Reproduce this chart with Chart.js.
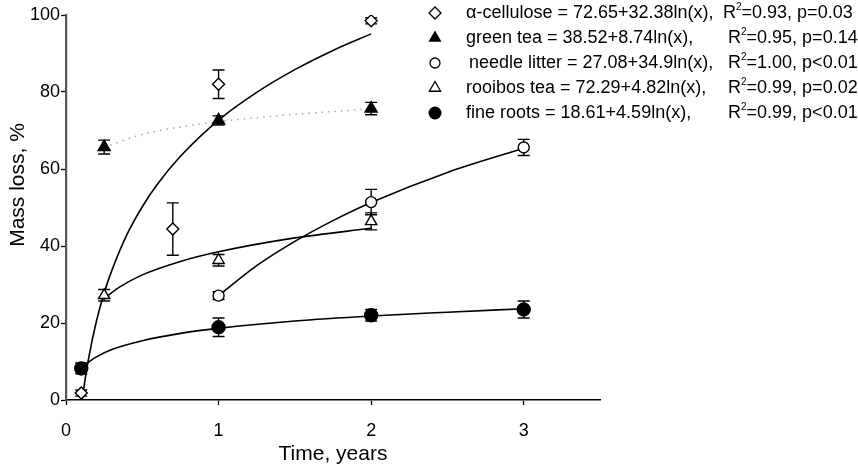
<!DOCTYPE html>
<html>
<head>
<meta charset="utf-8">
<script src="https://cdn.jsdelivr.net/npm/chart.js@4"></script>
<style>
  body { margin: 0; background: #fff; }
  #wrap { position: relative; width: 858px; height: 467px; }
</style>
</head>
<body>
<div id="wrap"><canvas id="massChart"></canvas></div>
<script>
const acTime = [0.1, 0.7, 1, 2];
const acMean = [1.8, 44.4, 82.0, 98.5];
const acErr = [0.8, 6.8, 3.7, 0.8];

const greenTime = [0.25, 1, 2];
const greenMean = [65.7, 72.6, 75.7];
const greenErr = [1.8, 1.2, 1.6];

const needleTime = [1, 2, 3];
const needleMean = [27.1, 51.4, 65.6];
const needleErr = [1.0, 3.3, 2.1];

const rooibosTime = [0.25, 1, 2];
const rooibosMean = [27.2, 36.3, 46.4];
const rooibosErr = [1.5, 1.5, 2.2];

const rootsTime = [0.1, 1, 2, 3];
const rootsMean = [8.2, 18.9, 22.0, 23.5];
const rootsErr = [1.4, 2.4, 1.5, 2.2];

// fitted curves
const acFitX = [0.107, 0.12, 0.15, 0.2, 0.25, 0.3, 0.4, 0.5, 0.6, 0.75, 1, 1.25, 1.5, 1.75, 2];
const acFitY = [0.3, 4.0, 11.2, 20.6, 27.8, 33.6, 43.0, 50.2, 56.1, 63.3, 72.7, 79.9, 85.8, 90.8, 95.1];
const greenFitX = [0.25, 0.5, 0.75, 1, 1.5, 2];
const greenFitY = [65.6, 69.0, 70.9, 72.3, 74.2, 75.6];
const needleFitX = [1, 1.25, 1.5, 1.75, 2, 2.5, 3];
const needleFitY = [27.1, 34.9, 41.2, 46.6, 51.3, 59.1, 65.4];
const rooibosFitX = [0.25, 0.35, 0.5, 0.75, 1, 1.5, 2];
const rooibosFitY = [26.4, 29.3, 32.5, 36.0, 38.5, 42.1, 44.6];
const rootsFitX = [0.1, 0.15, 0.2, 0.3, 0.5, 0.75, 1, 1.5, 2, 2.5, 3];
const rootsFitY = [8.0, 9.9, 11.2, 13.1, 15.4, 17.3, 18.6, 20.5, 21.8, 22.8, 23.7];

const xTicks = [0, 1, 2, 3];
const yTicks = [0, 20, 40, 60, 80, 100];

const yTitle = "Mass loss, %";
const legendLines = [
  ["α-cellulose = 72.65+32.38ln(x),", "=0.93, p=0.03"],
  ["green tea = 38.52+8.74ln(x),", "=0.95, p=0.14"],
  ["needle litter = 27.08+34.9ln(x),", "=1.00, p<0.01"],
  ["rooibos tea = 72.29+4.82ln(x),", "=0.99, p=0.02"],
  ["fine roots = 18.61+4.59ln(x),", "=0.99, p<0.01"]
];

const FONT = "'Liberation Sans', Arial, sans-serif";

function zip(xs, ys) {
  return xs.map((x, i) => ({ x: x, y: ys[i] }));
}

function pts(label, xs, ys, errs, style, fill, radius) {
  return {
    label: label,
    data: zip(xs, ys),
    errors: errs,
    showLine: false,
    pointStyle: style,
    pointRadius: radius,
    pointBorderWidth: 1.4,
    pointBorderColor: "#000",
    pointBackgroundColor: fill,
    order: 0
  };
}

function fit(xs, ys, dashed) {
  return {
    data: zip(xs, ys),
    showLine: true,
    pointRadius: 0,
    borderColor: dashed ? "#a8a8a8" : "#000",
    borderWidth: dashed ? 1.5 : 1.6,
    borderDash: dashed ? [1.5, 5] : [],
    cubicInterpolationMode: "monotone",
    order: 1
  };
}

// error bars drawn before the markers
const errorBars = {
  id: "errorBars",
  beforeDatasetsDraw(chart) {
    const ctx = chart.ctx;
    const xs = chart.scales.x, ys = chart.scales.y;
    ctx.save();
    ctx.strokeStyle = "#000";
    ctx.lineWidth = 1.4;
    chart.data.datasets.forEach(ds => {
      if (!ds.errors) return;
      ds.data.forEach((p, i) => {
        const e = ds.errors[i];
        const px = xs.getPixelForValue(p.x);
        const top = ys.getPixelForValue(p.y + e);
        const bot = ys.getPixelForValue(p.y - e);
        ctx.beginPath();
        ctx.moveTo(px, top); ctx.lineTo(px, bot);
        ctx.moveTo(px - 6, top); ctx.lineTo(px + 6, top);
        ctx.moveTo(px - 6, bot); ctx.lineTo(px + 6, bot);
        ctx.stroke();
      });
    });
    ctx.restore();
  }
};

function marker(ctx, kind, x, y, r) {
  ctx.beginPath();
  if (kind === "diamond") {
    ctx.moveTo(x, y - r); ctx.lineTo(x + r, y); ctx.lineTo(x, y + r); ctx.lineTo(x - r, y); ctx.closePath();
  } else if (kind === "tri" || kind === "triOpen") {
    ctx.moveTo(x, y - r); ctx.lineTo(x + r * 0.87, y + r * 0.5); ctx.lineTo(x - r * 0.87, y + r * 0.5); ctx.closePath();
  } else {
    ctx.arc(x, y, r, 0, Math.PI * 2);
  }
  if (kind === "tri" || kind === "dot") { ctx.fillStyle = "#000"; ctx.fill(); }
  else { ctx.stroke(); }
}

const legendPlugin = {
  id: "eqLegend",
  afterDraw(chart) {
    const ctx = chart.ctx;
    const kinds = ["diamond", "tri", "circle", "triOpen", "dot"];
    const sizes = [6, 7.5, 5, 6.5, 6.5];
    const rowY = [13, 38, 63, 88, 113];
    const textX = [466, 466, 469, 466, 466];
    const rX = [723, 728, 728, 728, 728];
    ctx.save();
    ctx.strokeStyle = "#000";
    ctx.lineWidth = 1.3;
    ctx.fillStyle = "#000";
    ctx.textBaseline = "middle";
    legendLines.forEach((ln, i) => {
      marker(ctx, kinds[i], 435, rowY[i], sizes[i]);
      ctx.fillStyle = "#000";
      ctx.font = "18px " + FONT;
      ctx.fillText(ln[0], textX[i], rowY[i]);
      ctx.fillText("R", rX[i], rowY[i]);
      const w = ctx.measureText("R").width;
      ctx.font = "10px " + FONT;
      ctx.fillText("2", rX[i] + w, rowY[i] - 6);
      const w2 = ctx.measureText("2").width;
      ctx.font = "18px " + FONT;
      ctx.fillText(ln[1], rX[i] + w + w2, rowY[i]);
    });
    // y axis title sits a little above the middle of the axis
    ctx.translate(18, 185);
    ctx.rotate(-Math.PI / 2);
    ctx.textAlign = "center";
    ctx.font = "21px " + FONT;
    ctx.fillText(yTitle, 0, 0);
    ctx.restore();
  }
};

new Chart(document.getElementById("massChart"), {
  type: "scatter",
  data: {
    datasets: [
      pts("α-cellulose", acTime, acMean, acErr, "rectRot", "#fff", 6),
      pts("green tea", greenTime, greenMean, greenErr, "triangle", "#000", 7),
      pts("needle litter", needleTime, needleMean, needleErr, "circle", "#fff", 5.5),
      pts("rooibos tea", rooibosTime, rooibosMean, rooibosErr, "triangle", "#fff", 6.5),
      pts("fine roots", rootsTime, rootsMean, rootsErr, "circle", "#000", 6.5),
      fit(acFitX, acFitY, false),
      fit(greenFitX, greenFitY, true),
      fit(needleFitX, needleFitY, false),
      fit(rooibosFitX, rooibosFitY, false),
      fit(rootsFitX, rootsFitY, false)
    ]
  },
  options: {
    responsive: true,
    maintainAspectRatio: false,
    animation: false,
    layout: { padding: { top: 15, right: 258, left: 0, bottom: 0 } },
    plugins: {
      legend: { display: false },
      tooltip: { enabled: false }
    },
    scales: {
      x: {
        type: "linear",
        min: 0,
        max: 3.5,
        afterFit(s) { s.height = 67; },
        afterBuildTicks(s) { s.ticks = xTicks.map(v => ({ value: v })); },
        grid: { drawOnChartArea: false, drawTicks: true, tickLength: 5, tickColor: "#000", tickWidth: 1.3 },
        border: { color: "#000", width: 1.6 },
        ticks: { color: "#000", padding: 15, font: { family: FONT, size: 18 } },
        title: {
          display: true, text: "Time, years", color: "#000",
          font: { family: FONT, size: 21 }, padding: { top: 0, bottom: 0 }
        }
      },
      y: {
        min: 0,
        max: 100,
        afterFit(s) { s.width = 66; },
        afterBuildTicks(s) { s.ticks = yTicks.map(v => ({ value: v })); },
        grid: { drawOnChartArea: false, drawTicks: true, tickLength: 5, tickColor: "#000", tickWidth: 1.3 },
        border: { color: "#555", width: 2.2 },
        ticks: { color: "#000", padding: 1, font: { family: FONT, size: 18 } },
        title: { display: false }
      }
    }
  },
  plugins: [errorBars, legendPlugin]
});
</script>
</body>
</html>
